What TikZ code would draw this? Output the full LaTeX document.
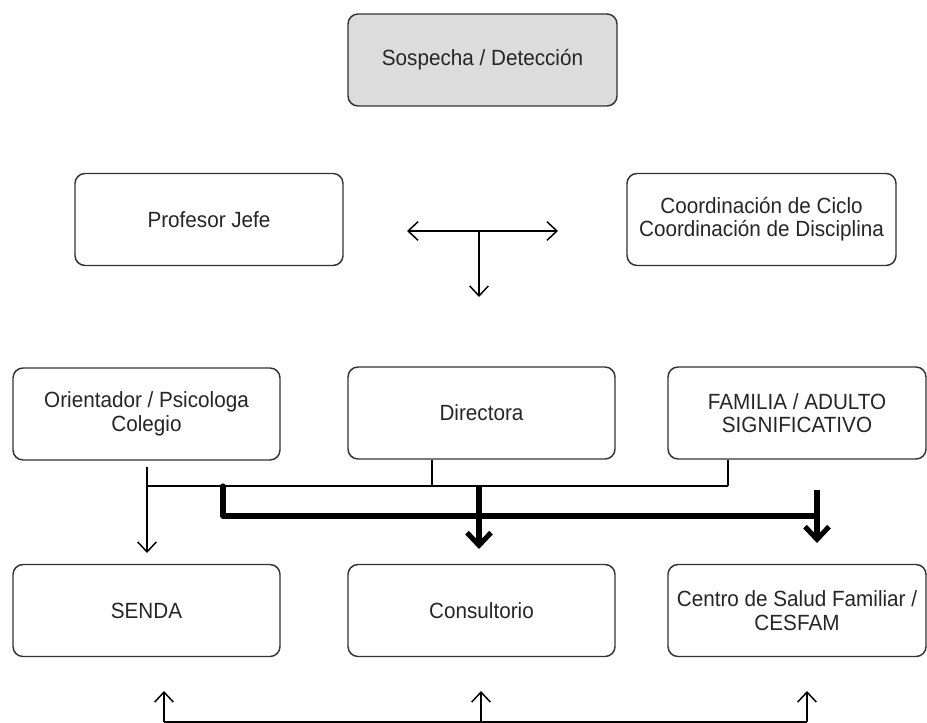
\documentclass[tikz,border=0pt]{standalone}
\usepackage{fontspec}
\setmainfont[FakeStretch=0.94]{Liberation Sans}
\usetikzlibrary{arrows.meta}
\definecolor{boxline}{HTML}{333333}
\definecolor{boxfill}{HTML}{DCDCDC}
\definecolor{txt}{HTML}{262626}
\tikzset{
  box/.style={draw=boxline, line width=1.1pt, rounded corners=7.5pt, fill=white,
    minimum width=200.25pt, minimum height=69pt, align=center, text=txt,
    inner sep=0pt, font=\fontsize{16.5}{17.5}\selectfont},
  thinline/.style={line width=1.1pt, draw=black},
  thinarrow/.style={thinline, -{Straight Barb[length=7.5pt,width=14pt]}},
  thickline/.style={line width=3.8pt, draw=black},
  thickarrow/.style={thickline, -{Straight Barb[length=9.5pt,width=18pt]}},
}
\begin{document}
\begin{tikzpicture}[x=0.75pt,y=-0.75pt]
\useasboundingbox (0,0) rectangle (927,723);
% boxes
\node[box, fill=boxfill, minimum width=201.75pt] (sos) at (482.5,60) {Sospecha / Detección};
\node[box, minimum width=201pt] (prof) at (209,219.5) {Profesor Jefe};
\node[box, minimum width=201.75pt, font=\fontsize{16.5}{17.5}\selectfont] (coord) at (761.5,219.5) {Coordinación de Ciclo\\Coordinación de Disciplina};
\node[box, font=\fontsize{16.5}{18}\selectfont] (ori) at (146.5,414) {Orientador / Psicologa\\Colegio};
\node[box] (dir) at (481.5,413) {Directora};
\node[box, minimum width=193.5pt, font=\fontsize{16.5}{17.5}\selectfont] (fam) at (797,413) {FAMILIA / ADULTO\\SIGNIFICATIVO};
\node[box] (senda) at (146.5,610.5) {SENDA};
\node[box] (cons) at (481.5,610.5) {Consultorio};
\node[box, minimum width=193.5pt, font=\fontsize{16.5}{18}\selectfont] (cesfam) at (797,610.5) {Centro de Salud Familiar /\\CESFAM};
% T-shaped arrow between Profesor Jefe and Coordinacion
\coordinate (tl) at (407,231);
\coordinate (tr) at (558,231);
\coordinate (tm) at (479,231);
\coordinate (tb) at (479,297);
\draw[thinline, {Straight Barb[length=7.5pt,width=14pt]}-{Straight Barb[length=7.5pt,width=14pt]}] (tl) -- (tr);
\draw[thinarrow] (tm) -- (tb);
% thin connectors from the middle row
\coordinate (bus) at (147,486);
\coordinate (oritop) at (147,467);
\coordinate (oritip) at (147,553);
\coordinate (dirj) at (432,486);
\coordinate (famj) at (728,486);
\draw[thinarrow] (oritop) -- (oritip);
\draw[thinline] (bus) -- (famj);
\draw[thinline] (dir.south -| dirj) -- (dirj);
\draw[thinline] (fam.south -| famj) -- (famj);
% thick connectors
\coordinate (k1) at (223,486);
\coordinate (k2) at (223,516);
\coordinate (k3) at (817,516);
\coordinate (k4) at (479,486);
\coordinate (k5) at (479,549);
\coordinate (k6) at (817,490);
\coordinate (k7) at (817,543);
\draw[thickline, line cap=round, line join=round] (k1) -- (k2) -- (k3);
\draw[thickarrow] (k4) -- (k5);
\draw[thickarrow] (k6) -- (k7);
% bottom return arrows
\coordinate (b1) at (164,722);
\coordinate (b2) at (481,722);
\coordinate (b3) at (807,722);
\coordinate (u1) at (164,691);
\coordinate (u2) at (481,691);
\coordinate (u3) at (807,691);
\draw[thinline] (b1) -- (b3);
\draw[thinarrow] (b1) -- (u1);
\draw[thinarrow] (b2) -- (u2);
\draw[thinarrow] (b3) -- (u3);
\end{tikzpicture}
\end{document}
